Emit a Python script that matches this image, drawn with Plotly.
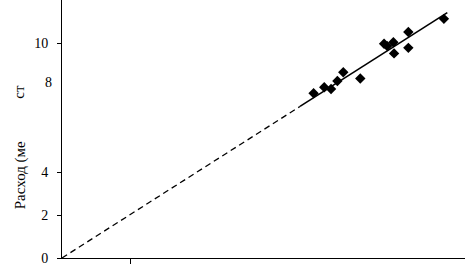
import plotly.graph_objects as go

x_vals = [11.10, 11.57, 11.87, 12.15, 12.41, 13.16, 14.21, 14.35, 14.62, 14.65, 15.28, 15.28, 16.85]
y_vals = [7.68, 7.96, 7.88, 8.25, 8.66, 8.37, 9.99, 9.88, 10.06, 9.54, 10.54, 9.80, 11.15]
fit_slope = 0.673
dash_x = [0, 10.5]
solid_x = [10.5, 17.0]
y_tickvals = [0, 2, 4, 10]
y_ticktext = ["0", "2", "4", "10"]
x_tickvals = [3]

font = dict(family="Liberation Serif", size=14, color="black")
title_font = dict(family="Liberation Serif", size=15, color="black")

W, H = 465, 266
l, b, t = 62, 4, 0
pw, ph = W - l, H - b - t
def to_paper(px, py):
    return (px - l) / pw, (H - b - py) / ph

fig = go.Figure()
fig.add_trace(go.Scatter(x=dash_x, y=[fit_slope * v for v in dash_x], mode="lines",
                         line=dict(color="black", width=1.3, dash="6px,4px"), showlegend=False))
fig.add_trace(go.Scatter(x=solid_x, y=[fit_slope * v for v in solid_x], mode="lines",
                         line=dict(color="black", width=1.6), showlegend=False))
fig.add_trace(go.Scatter(x=x_vals, y=y_vals, mode="markers",
                         marker=dict(symbol="diamond", size=8, color="black"), showlegend=False))

a8 = to_paper(48, 84)
at1 = to_paper(10, 215)
at2 = to_paper(9, 84)

fig.update_layout(
    width=W, height=H,
    margin=dict(l=l, r=0, t=t, b=b),
    paper_bgcolor="white", plot_bgcolor="white",
    font=font,
    xaxis=dict(range=[0, 17.78], showgrid=False, zeroline=False, showline=True,
               linecolor="black", linewidth=1, ticks="outside", ticklen=5,
               tickcolor="black", tickvals=x_tickvals, showticklabels=False),
    yaxis=dict(range=[0, 12.03], showgrid=False, zeroline=False, showline=True,
               linecolor="black", linewidth=1, ticks="outside", ticklen=4,
               tickcolor="black", tickvals=y_tickvals, ticktext=y_ticktext,
               tickfont=font, ticklabelstandoff=6, ticklabeloverflow="allow"),
    annotations=[
        dict(text="8", x=a8[0], xref="paper", y=a8[1], yref="paper", showarrow=False,
             xanchor="center", yanchor="middle", font=font),
        dict(text="Расход (ме", x=at1[0], xref="paper", y=at1[1], yref="paper",
             showarrow=False, textangle=-90, font=title_font),
        dict(text="ст", x=at2[0], xref="paper", y=at2[1], yref="paper",
             showarrow=False, textangle=-90, font=title_font),
    ],
)

fig.write_html("out.html", config={"displayModeBar": False},
               post_script="document.body.style.margin='0';document.body.style.overflow='hidden';")
